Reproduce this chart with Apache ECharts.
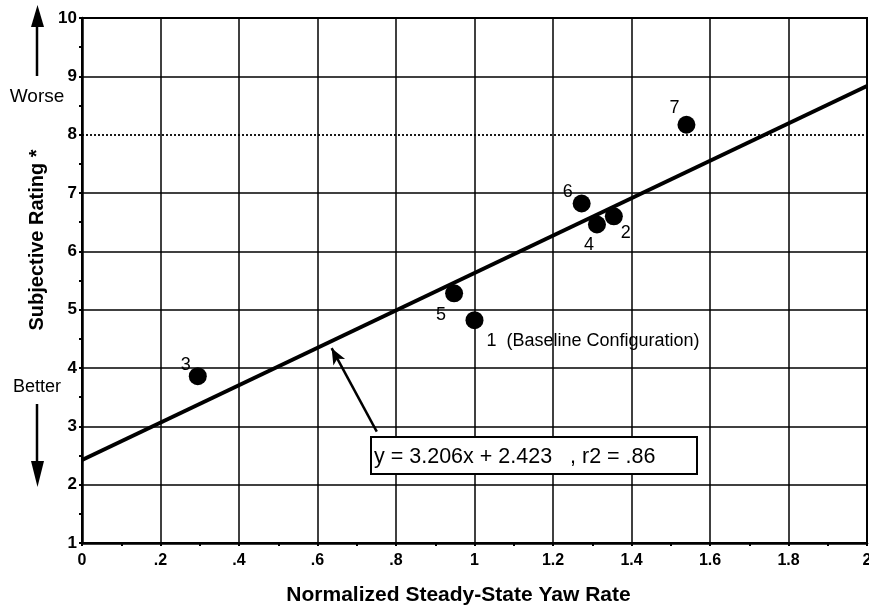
<!DOCTYPE html>
<html><head><meta charset="utf-8">
<script src="https://cdn.jsdelivr.net/npm/echarts@6/dist/echarts.min.js"></script>
<style>html,body{margin:0;padding:0;background:#fff}#c{width:869px;height:610px}</style>
</head><body><div id="c"></div>
<script>
// ---- data ----
const pointIds = ['1', '2', '3', '4', '5', '6', '7'];
const pointLabels = ['1  (Baseline Configuration)', '2', '3', '4', '5', '6', '7'];
const xValues = [1.00, 1.355, 0.295, 1.312, 0.948, 1.273, 1.540];
const yValues = [4.82, 6.60, 3.86, 6.46, 5.28, 6.82, 8.17];
const fitSlope = 3.206;
const fitIntercept = 2.423;
const fitRange = [0, 2];
const xTickLabels = ['0', '.2', '.4', '.6', '.8', '1', '1.2', '1.4', '1.6', '1.8', '2'];
const yTickLabels = ['1', '2', '3', '4', '5', '6', '7', '8', '9', '10'];
const yGridSolid = [2, 3, 4, 5, 6, 7, 9];
const yGridDotted = [8];
const equationText = 'y = 3.206x + 2.423   , r2 = .86';
const arrowFrom = [0.751, 2.91];
const arrowTo = [0.636, 4.34];

// ---- label placement (style only) ----
const labelOffsets = {
  '1': {offset: [12, 21], align: 'left'},
  '2': {offset: [12, 17], align: 'center'},
  '3': {offset: [-12, -11], align: 'center'},
  '4': {offset: [-8, 21], align: 'center'},
  '5': {offset: [-13, 22], align: 'center'},
  '6': {offset: [-14, -11], align: 'center'},
  '7': {offset: [-12, -17], align: 'center'}
};

const FONT = '"Liberation Sans", Arial, Helvetica, sans-serif';

const scatterData = pointIds.map((id, i) => ({
  value: [xValues[i], yValues[i]],
  label: {
    show: true,
    formatter: pointLabels[i],
    position: 'inside',
    align: labelOffsets[id].align,
    verticalAlign: 'middle',
    offset: labelOffsets[id].offset,
    color: '#000',
    opacity: 1,
    fontSize: 18,
    fontFamily: FONT
  }
}));

const fitData = fitRange.map(x => [x, fitSlope * x + fitIntercept]);

const gridLines = yGridSolid.map(v => ({yAxis: v, lineStyle: {type: 'solid', width: 1.5, color: '#000'}}))
  .concat(yGridDotted.map(v => ({yAxis: v, lineStyle: {type: [2, 2], width: 1.8, color: '#000'}})));

const chart = echarts.init(document.getElementById('c'), null, {renderer: 'canvas'});
chart.setOption({
  backgroundColor: '#fff',
  animation: false,
  grid: {left: 82, right: 2, top: 18, bottom: 67, outerBoundsMode: 'none', containLabel: false,
         show: true, borderColor: '#000', borderWidth: 2, backgroundColor: 'transparent'},
  xAxis: {
    type: 'value', min: 0, max: 2, interval: 0.2,
    name: 'Normalized Steady-State Yaw Rate',
    nameLocation: 'middle', nameGap: 42,
    nameTextStyle: {fontFamily: FONT, fontWeight: 'bold', fontSize: 21, color: '#000', padding: [0, 32, 0, 0]},
    axisLine: {show: true, lineStyle: {color: '#000', width: 2.5}},
    axisTick: {show: true, length: 3, inside: false, lineStyle: {color: '#000', width: 2}},
    minorTick: {show: true, splitNumber: 2, length: 3, lineStyle: {color: '#000', width: 2}},
    splitLine: {show: true, lineStyle: {color: '#000', width: 1.5}},
    axisLabel: {
      margin: 10, color: '#000', fontFamily: FONT, fontWeight: 'bold', fontSize: 16,
      showMaxLabel: true, showMinLabel: true,
      formatter: v => xTickLabels[Math.round(v / 0.2)]
    }
  },
  yAxis: {
    type: 'value', min: 1, max: 10, interval: 1,
    axisLine: {show: true, lineStyle: {color: '#000', width: 2.5}},
    axisTick: {show: true, length: 3, lineStyle: {color: '#000', width: 2}},
    minorTick: {show: true, splitNumber: 2, length: 3, lineStyle: {color: '#000', width: 2}},
    splitLine: {show: false},
    axisLabel: {
      margin: 5, color: '#000', fontFamily: FONT, fontWeight: 'bold', fontSize: 17,
      formatter: v => yTickLabels[Math.round(v - 1)]
    }
  },
  series: [
    {
      type: 'line', data: [], silent: true,
      markLine: {silent: true, symbol: 'none', label: {show: false}, data: gridLines, animation: false}
    },
    {
      type: 'line', data: fitData, showSymbol: false, symbol: 'none', silent: true,
      lineStyle: {color: '#000', width: 4}, z: 3
    },
    {
      type: 'scatter', data: scatterData, symbol: 'circle', symbolSize: 18,
      itemStyle: {color: '#000', opacity: 1}, z: 4
    },
    {
      type: 'line', data: [], silent: true,
      markLine: {
        silent: true, symbol: ['none', 'arrow'], symbolSize: [10, 16],
        label: {show: false},
        lineStyle: {color: '#000', width: 2.5, type: 'solid'},
        data: [[{coord: arrowFrom}, {coord: arrowTo}]]
      }, z: 5
    }
  ],
  graphic: [
    {type: 'rect', shape: {x: 371, y: 437, width: 326, height: 37}, style: {fill: '#fff', stroke: '#000', lineWidth: 2}, z: 10},
    {type: 'text', x: 374, y: 457, style: {text: equationText, font: '21.5px ' + FONT, fill: '#000', verticalAlign: 'middle'}, z: 11},
    {type: 'text', x: 37, y: 240, rotation: Math.PI / 2, style: {text: 'Subjective Rating *', font: 'bold 20px ' + FONT, fill: '#000', align: 'center', verticalAlign: 'middle'}, z: 10},
    {type: 'text', x: 37, y: 97, style: {text: 'Worse', font: '19px ' + FONT, fill: '#000', align: 'center', verticalAlign: 'middle'}, z: 10},
    {type: 'text', x: 37, y: 387, style: {text: 'Better', font: '18px ' + FONT, fill: '#000', align: 'center', verticalAlign: 'middle'}, z: 10},
    {type: 'line', shape: {x1: 37, y1: 76, x2: 37, y2: 24}, style: {stroke: '#000', lineWidth: 2.5}, z: 10},
    {type: 'polygon', shape: {points: [[31, 27], [44, 27], [37.5, 5]]}, style: {fill: '#000'}, z: 10},
    {type: 'line', shape: {x1: 37, y1: 404, x2: 37, y2: 464}, style: {stroke: '#000', lineWidth: 2.5}, z: 10},
    {type: 'polygon', shape: {points: [[31, 461], [44, 461], [37.5, 487]]}, style: {fill: '#000'}, z: 10}
  ]
});
</script>
</body></html>
